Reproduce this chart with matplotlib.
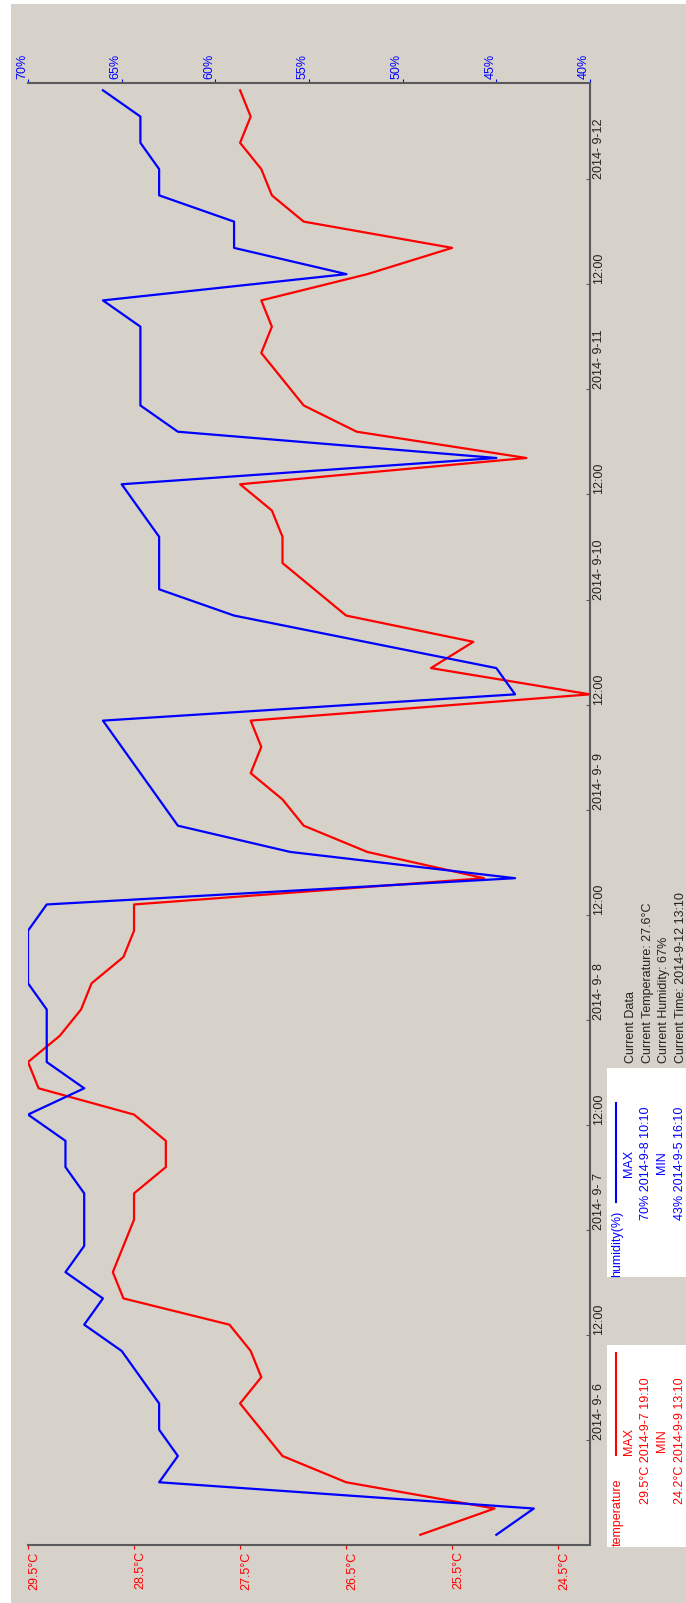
import matplotlib
matplotlib.use('Agg')
import matplotlib.pyplot as plt
from matplotlib.patches import Rectangle
from matplotlib.lines import Line2D

plt.rcParams['font.family'] = ['Liberation Sans', 'DejaVu Sans']

W, H = 686, 1603
BG = '#d6d2ca'

# readings every 3 hours starting 2014-9-5 13:10 (hours counted from 2014-9-6 00:00)
start_hour = -10 - 50 / 60
step_hours = 3

temperature = [25.8, 25.1, 26.5, 27.1, 27.3, 27.5, 27.3, 27.4, 27.6, 28.6,
               28.7, 28.6, 28.5, 28.5, 28.2, 28.2, 28.5, 29.4, 29.5, 29.2,
               29.0, 28.9, 28.6, 28.5, 28.5, 25.2, 26.3, 26.9, 27.1, 27.4,
               27.3, 27.4, 24.2, 25.7, 25.3, 26.5, 26.8, 27.1, 27.1, 27.2,
               27.5, 24.8, 26.4, 26.9, 27.1, 27.3, 27.2, 27.3, 26.3, 25.5,
               26.9, 27.2, 27.3, 27.5, 27.4, 27.5]

humidity = [45, 43, 63, 62, 63, 63, 64, 65, 67, 66,
            68, 67, 67, 67, 68, 68, 70, 67, 69, 69,
            69, 70, 70, 70, 69, 44, 56, 62, 63, 64,
            65, 66, 44, 45, 52, 59, 63, 63, 63, 64,
            65, 45, 62, 64, 64, 64, 64, 66, 53, 59,
            59, 63, 63, 64, 64, 66]

hours = [start_hour + step_hours * i for i in range(len(temperature))]

time_ticks = [0, 12, 24, 36, 48, 60, 72, 84, 96, 108, 120, 132, 144]
time_labels = ['2014- 9- 6', '12:00', '2014- 9- 7', '12:00', '2014- 9- 8', '12:00',
               '2014- 9- 9', '12:00', '2014- 9-10', '12:00', '2014- 9-11', '12:00',
               '2014- 9-12']
temp_ticks = [29.5, 28.5, 27.5, 26.5, 25.5, 24.5]
hum_ticks = [70, 65, 60, 55, 50, 45, 40]


def P(x, y):
    return (x / W, 1 - y / H)


fig = plt.figure(figsize=(W / 100, H / 100), dpi=100, facecolor='white')
fig.add_artist(Rectangle((11 / W, 0), 1 - 11 / W, 1 - 4 / H, transform=fig.transFigure,
                         facecolor=BG, edgecolor='none', zorder=0))

ax = fig.add_axes([28 / W, 1 - 1545 / H, (590 - 28) / W, (1545 - 83) / H])
ax.set_facecolor('none')
ax.plot(temperature, hours, color='red', lw=1.6)
ax.set_xlim(29.5, 24.2)
ax.set_ylim(-12, 155)

ax2 = ax.twiny()
ax2.plot(humidity, hours, color='blue', lw=1.6)
ax2.set_xlim(70, 40)

spine_c = '#5a5a5a'
for a in (ax, ax2):
    for s in a.spines.values():
        s.set_visible(False)
for s in (ax.spines['bottom'], ax.spines['right'], ax2.spines['top']):
    s.set_visible(True)
    s.set_color(spine_c)
    s.set_linewidth(1.5)

ax.set_xticks(temp_ticks)
ax.set_xticklabels(['%.1f°C' % t for t in temp_ticks], rotation=90, ha='left', va='top')
ax.tick_params(axis='x', direction='out', length=3, color='red', labelcolor='red',
               pad=1.5, labelsize=9)

ax.yaxis.tick_right()
ax.set_yticks(time_ticks)
ax.set_yticklabels(time_labels, rotation=90, ha='left', va='bottom')
ax.tick_params(axis='y', direction='in', length=3, color=spine_c, labelcolor='#222222',
               pad=2, labelsize=9)

ax2.set_xticks(hum_ticks)
ax2.set_xticklabels(['%d%%' % h for h in hum_ticks], rotation=90, ha='right', va='bottom')
ax2.tick_params(axis='x', direction='out', length=3, color='blue', labelcolor='blue',
                pad=0, labelsize=9)

# legend boxes
fig.add_artist(Rectangle(P(607, 1547), 90 / W, (1547 - 1345) / H, transform=fig.transFigure,
                         facecolor='white', edgecolor='none'))
fig.add_artist(Rectangle(P(607, 1277), 90 / W, (1277 - 1068) / H, transform=fig.transFigure,
                         facecolor='white', edgecolor='none'))

fig.add_artist(Line2D([616 / W, 616 / W], [1 - 1353 / H, 1 - 1455 / H], color='red', lw=1.5,
                      transform=fig.transFigure))
fig.add_artist(Line2D([616 / W, 616 / W], [1 - 1103 / H, 1 - 1202 / H], color='blue', lw=1.5,
                      transform=fig.transFigure))

fs = 9
fig.text(*P(618, 1546), 'temperature', rotation=90, ha='center', va='bottom', color='red', fontsize=fs)
fig.text(*P(629, 1441), 'MAX', rotation=90, ha='center', va='center', color='red', fontsize=fs)
fig.text(*P(646, 1441), '29.5°C 2014-9-7 19:10', rotation=90, ha='center', va='center', color='red', fontsize=fs)
fig.text(*P(662, 1441), 'MIN', rotation=90, ha='center', va='center', color='red', fontsize=fs)
fig.text(*P(680, 1441), '24.2°C 2014-9-9 13:10', rotation=90, ha='center', va='center', color='red', fontsize=fs)

fig.text(*P(617, 1277), 'humidity(%)', rotation=90, ha='center', va='bottom', color='blue', fontsize=fs)
fig.text(*P(629, 1163), 'MAX', rotation=90, ha='center', va='center', color='blue', fontsize=fs)
fig.text(*P(646, 1163), '70% 2014-9-8 10:10', rotation=90, ha='center', va='center', color='blue', fontsize=fs)
fig.text(*P(662, 1163), 'MIN', rotation=90, ha='center', va='center', color='blue', fontsize=fs)
fig.text(*P(680, 1163), '43% 2014-9-5 16:10', rotation=90, ha='center', va='center', color='blue', fontsize=fs)

current = ['Current Data', 'Current Temperature: 27.6°C', 'Current Humidity: 67%',
           'Current Time: 2014-9-12 13:10']
for k, line in enumerate(current):
    fig.text(*P(631 + 16.5 * k, 1063), line, rotation=90, ha='center', va='bottom',
             color='#222222', fontsize=fs)

fig.savefig('out.png', dpi=100, facecolor='white')
